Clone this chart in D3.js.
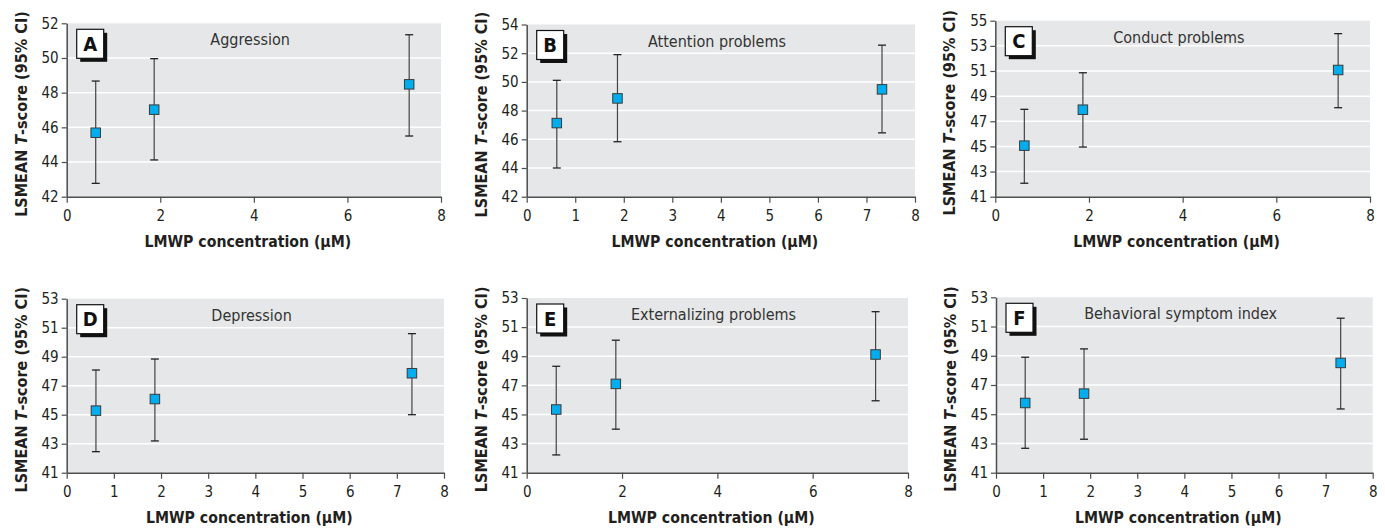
<!DOCTYPE html>
<html>
<head>
<meta charset="utf-8">
<script src="https://cdn.jsdelivr.net/npm/d3@7"></script>
<style>
  html, body { margin: 0; padding: 0; background: #fff; }
  svg { display: block; }
  text { font-family: "Liberation Sans Narrow", "Arial Narrow", "DejaVu Sans Condensed", sans-serif; }
</style>
</head>
<body>
<svg id="chart" width="1385" height="529"></svg>
<script>
// ---------------- DATA ----------------
const panelLetters = ["A", "B", "C", "D", "E", "F"];
const panelTitles = ["Aggression", "Attention problems", "Conduct problems",
                     "Depression", "Externalizing problems", "Behavioral symptom index"];
const lmwpConcentration = [0.62, 1.87, 7.32];   // µM, x position of each group
const lsMeans = [
  [45.69, 47.02, 48.48],
  [47.13, 48.85, 49.48],
  [45.06, 47.92, 51.08],
  [45.28, 46.08, 47.86],
  [45.34, 47.10, 49.12],
  [45.77, 46.41, 48.51]
];
const ciLower = [
  [42.77, 44.12, 45.50],
  [44.00, 45.83, 46.45],
  [42.07, 44.95, 48.08],
  [42.45, 43.19, 45.00],
  [42.22, 43.99, 45.94],
  [42.67, 43.29, 45.36]
];
const ciUpper = [
  [48.67, 49.96, 51.34],
  [50.11, 51.90, 52.56],
  [47.95, 50.86, 53.97],
  [48.08, 48.84, 50.59],
  [48.31, 50.10, 52.06],
  [48.90, 49.47, 51.57]
];
const yDomains = [[42, 52], [42, 54], [41, 55], [41, 53], [41, 53], [41, 53]];
const yTickValues = [
  [42, 44, 46, 48, 50, 52],
  [42, 44, 46, 48, 50, 52, 54],
  [41, 43, 45, 47, 49, 51, 53, 55],
  [41, 43, 45, 47, 49, 51, 53],
  [41, 43, 45, 47, 49, 51, 53],
  [41, 43, 45, 47, 49, 51, 53]
];
const xTickValues = [
  [0, 2, 4, 6, 8],
  [0, 1, 2, 3, 4, 5, 6, 7, 8],
  [0, 2, 4, 6, 8],
  [0, 1, 2, 3, 4, 5, 6, 7, 8],
  [0, 2, 4, 6, 8],
  [0, 1, 2, 3, 4, 5, 6, 7, 8]
];
const xDomain = [0, 8];
const xAxisTitle = "LMWP concentration (µM)";

// ---------------- LAYOUT ----------------
const frames = [
  { left: 66.7,  right: 441,    top: 23.3,  bottom: 196.7 },
  { left: 526.7, right: 915,    top: 24.5,  bottom: 196.7 },
  { left: 995.3, right: 1370,   top: 20.7,  bottom: 196.7 },
  { left: 66.7,  right: 444,    top: 298.7, bottom: 472.7 },
  { left: 526.7, right: 908,    top: 298,   bottom: 472.7 },
  { left: 996,   right: 1372.7, top: 297.3, bottom: 472.7 }
];

const svg = d3.select("#chart");
const axisColor = "#4d4d4d";

function fitWidth(sel, target, base) {
  const w = sel.node().getComputedTextLength();
  if (w > 0) sel.attr("font-size", base * target / w);
}

frames.forEach((f, i) => {
  const g = svg.append("g");
  const x = d3.scaleLinear().domain(xDomain).range([f.left, f.right]);
  const y = d3.scaleLinear().domain(yDomains[i]).range([f.bottom, f.top]);

  // background
  g.append("rect")
    .attr("x", f.left).attr("y", f.top)
    .attr("width", f.right - f.left).attr("height", f.bottom - f.top)
    .attr("fill", "#e6e7e8");

  // gridlines
  g.selectAll(".grid").data(yTickValues[i].slice(1, -1)).join("line")
    .attr("x1", f.left).attr("x2", f.right)
    .attr("y1", d => y(d)).attr("y2", d => y(d))
    .attr("stroke", "#ffffff").attr("stroke-width", 1.5);

  // axes
  const xAxis = d3.axisBottom(x).tickValues(xTickValues[i]).tickSize(6).tickSizeOuter(0).tickPadding(5);
  const yAxis = d3.axisLeft(y).tickValues(yTickValues[i]).tickSize(5).tickSizeOuter(0).tickPadding(3);

  const gx = g.append("g").attr("transform", `translate(0,${f.bottom})`).call(xAxis);
  const gy = g.append("g").attr("transform", `translate(${f.left},0)`).call(yAxis);
  [gx, gy].forEach(a => {
    a.select(".domain").attr("stroke", axisColor).attr("stroke-width", 1.5);
    a.selectAll(".tick line").attr("stroke", axisColor).attr("stroke-width", 1.2);
    a.selectAll(".tick text").attr("fill", "#231f20").attr("font-size", 15)
      .attr("font-family", "'Liberation Sans Narrow', 'Arial Narrow', 'DejaVu Sans Condensed', sans-serif");
  });
  gx.selectAll(".tick text").attr("dy", "0.9em");

  // axis titles
  const xt = g.append("text")
    .attr("x", (f.left + f.right) / 2 - 6)
    .attr("y", f.bottom + 50)
    .attr("text-anchor", "middle")
    .attr("font-size", 19).attr("font-weight", "bold").attr("fill", "#231f20")
    .text(xAxisTitle);
  fitWidth(xt, 207, 19);

  const yt = g.append("text")
    .attr("transform", `translate(${f.left - 40},${(f.top + f.bottom) / 2 + 4}) rotate(-90)`)
    .attr("text-anchor", "middle")
    .attr("font-size", 19).attr("font-weight", "bold").attr("fill", "#231f20");
  yt.append("tspan").text("LSMEAN ");
  yt.append("tspan").attr("font-style", "italic").text("T");
  yt.append("tspan").text("-score (95% CI)");
  fitWidth(yt, 206, 19);

  // panel title
  g.append("text")
    .attr("x", f.left + (f.right - f.left) * 0.49)
    .attr("y", f.top + 22)
    .attr("text-anchor", "middle")
    .attr("font-size", 16).attr("fill", "#333")
    .text(panelTitles[i]);

  // letter box with shadow
  const bx = f.left + 10, by = f.top + 6, bw = 27, bh = 29;
  g.append("rect").attr("x", bx + 3.5).attr("y", by + 3.5).attr("width", bw).attr("height", bh).attr("fill", "#111");
  g.append("rect").attr("x", bx).attr("y", by).attr("width", bw).attr("height", bh)
    .attr("fill", "#fff").attr("stroke", "#111").attr("stroke-width", 1.2);
  g.append("text").attr("x", bx + bw / 2).attr("y", by + bh / 2 + 7)
    .attr("text-anchor", "middle").attr("font-size", 20).attr("font-weight", "bold").attr("fill", "#111")
    .text(panelLetters[i]);

  // error bars
  const pts = lmwpConcentration.map((c, j) => ({ c, m: lsMeans[i][j], lo: ciLower[i][j], hi: ciUpper[i][j] }));
  const eb = g.append("g");
  eb.selectAll(".v").data(pts).join("line")
    .attr("x1", d => x(d.c)).attr("x2", d => x(d.c))
    .attr("y1", d => y(d.lo)).attr("y2", d => y(d.hi))
    .attr("stroke", "#444").attr("stroke-width", 1.2);
  eb.selectAll(".cu").data(pts).join("line")
    .attr("x1", d => x(d.c) - 4).attr("x2", d => x(d.c) + 4)
    .attr("y1", d => y(d.hi)).attr("y2", d => y(d.hi))
    .attr("stroke", "#222").attr("stroke-width", 1.3);
  eb.selectAll(".cl").data(pts).join("line")
    .attr("x1", d => x(d.c) - 4).attr("x2", d => x(d.c) + 4)
    .attr("y1", d => y(d.lo)).attr("y2", d => y(d.lo))
    .attr("stroke", "#222").attr("stroke-width", 1.3);

  // markers
  const s = 9.5;
  g.selectAll(".pt").data(pts).join("rect")
    .attr("x", d => x(d.c) - s / 2).attr("y", d => y(d.m) - s / 2)
    .attr("width", s).attr("height", s)
    .attr("fill", "#00aeef").attr("stroke", "#3a3a3a").attr("stroke-width", 1);
});
</script>
</body>
</html>
